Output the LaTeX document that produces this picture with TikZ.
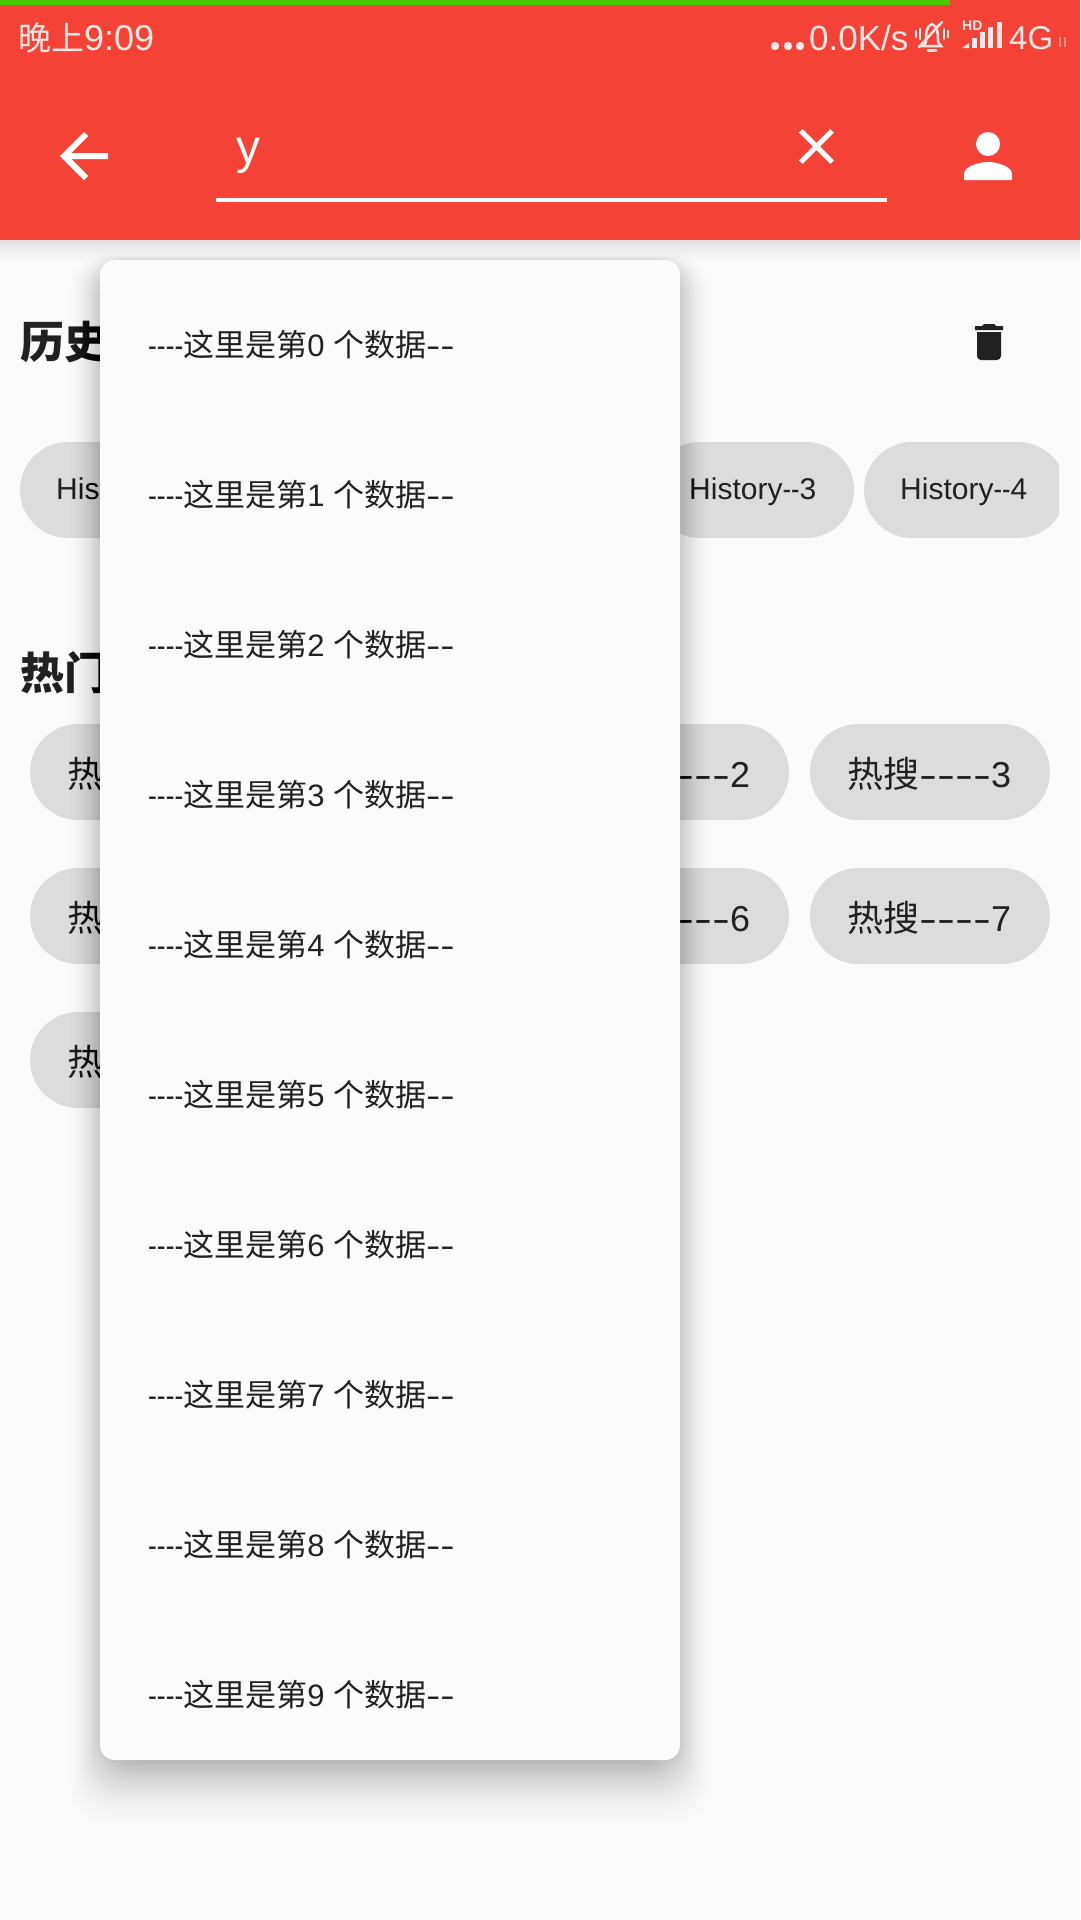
\documentclass[tikz,border=0pt]{standalone}
\usepackage{fontspec}
\setmainfont{Liberation Sans}
\newfontfamily\cjk{Noto Sans CJK SC}
\newfontfamily\thindash[FakeStretch=0.85]{Liberation Sans}
\newfontfamily\widedash[FakeStretch=1.38]{Liberation Sans}
\newfontfamily\hotdash[FakeStretch=1.5]{Liberation Sans}
\definecolor{barred}{HTML}{F44336}
\definecolor{loadgreen}{HTML}{47C800}
\definecolor{pagebg}{HTML}{FAFAFA}
\definecolor{popbg}{HTML}{FBFBFB}
\definecolor{chipgray}{HTML}{DCDCDC}
\definecolor{inktext}{HTML}{212121}
\definecolor{statusink}{HTML}{FFE8E6}
\newcommand{\popitem}[1]{{\thindash ----}{\cjk 这里是第}#1 {\cjk 个数据}{\widedash --}}
\newcommand{\hotitem}[1]{{\cjk 热搜}{\hotdash ----}#1}
\tikzset{
	statustext/.style={anchor=base west, inner sep=0pt, text=statusink, font=\fontsize{35}{35}\selectfont},
	poptext/.style={anchor=base west, inner sep=0pt, text=inktext, font=\fontsize{31}{31}\selectfont},
	chiptext/.style={anchor=base west, inner sep=0pt, text=inktext, font=\fontsize{30}{30}\selectfont},
	hottext/.style={anchor=base west, inner sep=0pt, text=inktext, font=\fontsize{36}{36}\selectfont},
	headtext/.style={anchor=base west, inner sep=0pt, text=inktext, font=\fontsize{44}{44}\selectfont\bfseries\cjk},
	chipbox/.style={fill=chipgray, rounded corners=48pt},
	bellline/.style={draw=statusink, line width=2.5pt, line cap=round}
}
\begin{document}
\begin{tikzpicture}[x=1pt, y=-1pt]
	\useasboundingbox (0, 0) rectangle (1080, 1920);
	\fill[pagebg] (0, 0) rectangle (1080, 1920);

	\fill[chipbox] (20, 442) rectangle (222, 538);
	\fill[chipbox] (652, 442) rectangle (854, 538);
	\begin{scope}
		\clip (0, 400) rectangle (1059, 560);
		\fill[chipbox] (864, 442) rectangle (1066, 538);
	\end{scope}
	\node[chiptext] (histA) at (56, 499) {His};
	\node[chiptext] (histD) at (689, 499) {History{\thindash --}3};
	\node[chiptext] (histE) at (900, 499) {History{\thindash --}4};

	\node[headtext] (headA) at (20, 358) {历史};
	\node[headtext] (headB) at (20, 689) {热门};

	\fill[chipbox] (30, 724) rectangle (270, 820);
	\fill[chipbox] (549, 724) rectangle (789, 820);
	\fill[chipbox] (810, 724) rectangle (1050, 820);
	\fill[chipbox] (30, 868) rectangle (270, 964);
	\fill[chipbox] (549, 868) rectangle (789, 964);
	\fill[chipbox] (810, 868) rectangle (1050, 964);
	\fill[chipbox] (30, 1012) rectangle (270, 1108);
	\node[hottext] (hotA) at (67, 787) {\cjk 热};
	\node[hottext] (hotC) at (676, 787) {{\hotdash ---}2};
	\node[hottext] (hotD) at (847, 787) {\hotitem{3}};
	\node[hottext] (hotE) at (67, 931) {\cjk 热};
	\node[hottext] (hotG) at (676, 931) {{\hotdash ---}6};
	\node[hottext] (hotH) at (847, 931) {\hotitem{7}};
	\node[hottext] (hotI) at (67, 1075) {\cjk 热};

	\begin{scope}[shift={(965, 318)}, x=2pt, y=-2pt, fill=inktext]
		\fill (6, 7) -- (18, 7) -- (18, 19) .. controls (18, 20.1) and (17.1, 21) .. (16, 21) -- (8, 21) .. controls (6.9, 21) and (6, 20.1) .. (6, 19) -- cycle;
		\fill (19, 4) -- (15.5, 4) -- (14.5, 3) -- (9.5, 3) -- (8.5, 4) -- (5, 4) -- (5, 6) -- (19, 6) -- cycle;
	\end{scope}

	\foreach \k in {1, ..., 26} {
		\pgfmathsetmacro\low{240 + 22 * (1 - \k / 26)}
		\fill[black, opacity=0.0045] (0, 240) rectangle (1080, \low);
	}

	\foreach \k in {1, ..., 70} {
		\pgfmathsetmacro\low{1760 + 73 * (1 - sqrt(\k / 70))}
		\pgfmathsetmacro\side{36 * (1 - sqrt(\k / 50))}
		\pgfmathsetmacro\up{260 - 8 * (1 - sqrt(\k / 35))}
		\fill[black, opacity=0.0045, rounded corners=36pt] (100 - \side, \up) rectangle (680 + \side, \low);
	}

	\fill[popbg, rounded corners=15pt] (100, 260) rectangle (680, 1760);
	\foreach \i in {0, ..., 9}
		\node[poptext] (item\i) at (148, 356 + 150 * \i) {\popitem{\i}};

	\fill[barred] (0, 0) rectangle (1080, 240);
	\fill[loadgreen] (0, 0) rectangle (950, 5);

	\node[statustext, font=\fontsize{36}{36}\selectfont] (clock) at (18, 50) {{\fontsize{33}{33}\selectfont\cjk 晚上}9:09};
	\foreach \x in {775, 788, 800}
		\fill[statusink] (\x, 46) circle (4.2pt);
	\node[statustext] (speed) at (809, 50) {0.0K/s};

	\draw[bellline] (919, 47) -- (942, 22);
	\draw[bellline] (923, 46) -- (926, 42) .. controls (926, 34) and (926, 26) .. (932, 24) .. controls (938, 26) and (938, 34) .. (938, 42) -- (941, 46) -- cycle;
	\draw[bellline] (916, 31) -- (916, 37);
	\draw[bellline] (920, 29) -- (920, 39);
	\draw[bellline] (948, 31) -- (948, 37);
	\draw[bellline] (944, 29) -- (944, 39);
	\draw[bellline] (928, 50.5) -- (936, 50.5);

	\node[anchor=base west, inner sep=0pt, text=statusink, font=\fontsize{14}{14}\selectfont\bfseries] (hd) at (962, 30.5) {HD};
	\fill[statusink] (962, 48) -- (969, 43) -- (969, 48) -- cycle;
	\fill[statusink] (972, 38) rectangle (976.5, 48);
	\fill[statusink] (980, 32) rectangle (984.5, 48);
	\fill[statusink] (988, 27) rectangle (992.5, 48);
	\fill[statusink] (997, 22) rectangle (1001.5, 48);
	\node[statustext, font=\fontsize{33}{33}\selectfont] (net) at (1009, 49) {4G};
	\draw[statusink, opacity=0.45, line width=1.4pt] (1060, 37) -- (1060, 47);
	\draw[statusink, opacity=0.45, line width=1.4pt] (1065, 37) -- (1065, 47);

	\begin{scope}[shift={(48, 120)}, x=3pt, y=-3pt]
		\fill[white] (20, 11) -- (7.83, 11) -- (13.42, 5.41) -- (12, 4) -- (4, 12) -- (12, 20) -- (13.41, 18.59) -- (7.83, 13) -- (20, 13) -- cycle;
	\end{scope}
	\node[anchor=base west, inner sep=0pt, text=white, font=\fontsize{48}{48}\selectfont] (query) at (236, 163) {y};
	\fill[white] (216, 198) rectangle (887, 202);
	\begin{scope}[shift={(786.5, 116.5)}, x=2.5pt, y=-2.5pt]
		\fill[white] (19, 6.41) -- (17.59, 5) -- (12, 10.59) -- (6.41, 5) -- (5, 6.41) -- (10.59, 12) -- (5, 17.59) -- (6.41, 19) -- (12, 13.41) -- (17.59, 19) -- (19, 17.59) -- (13.41, 12) -- cycle;
	\end{scope}
	\begin{scope}[shift={(952, 120)}, x=3pt, y=-3pt]
		\fill[white] (12, 8) circle (4);
		\fill[white] (12, 14) .. controls (9.33, 14) and (4, 15.34) .. (4, 18) -- (4, 20) -- (20, 20) -- (20, 18) .. controls (20, 15.34) and (14.67, 14) .. (12, 14) -- cycle;
	\end{scope}
\end{tikzpicture}
\end{document}
